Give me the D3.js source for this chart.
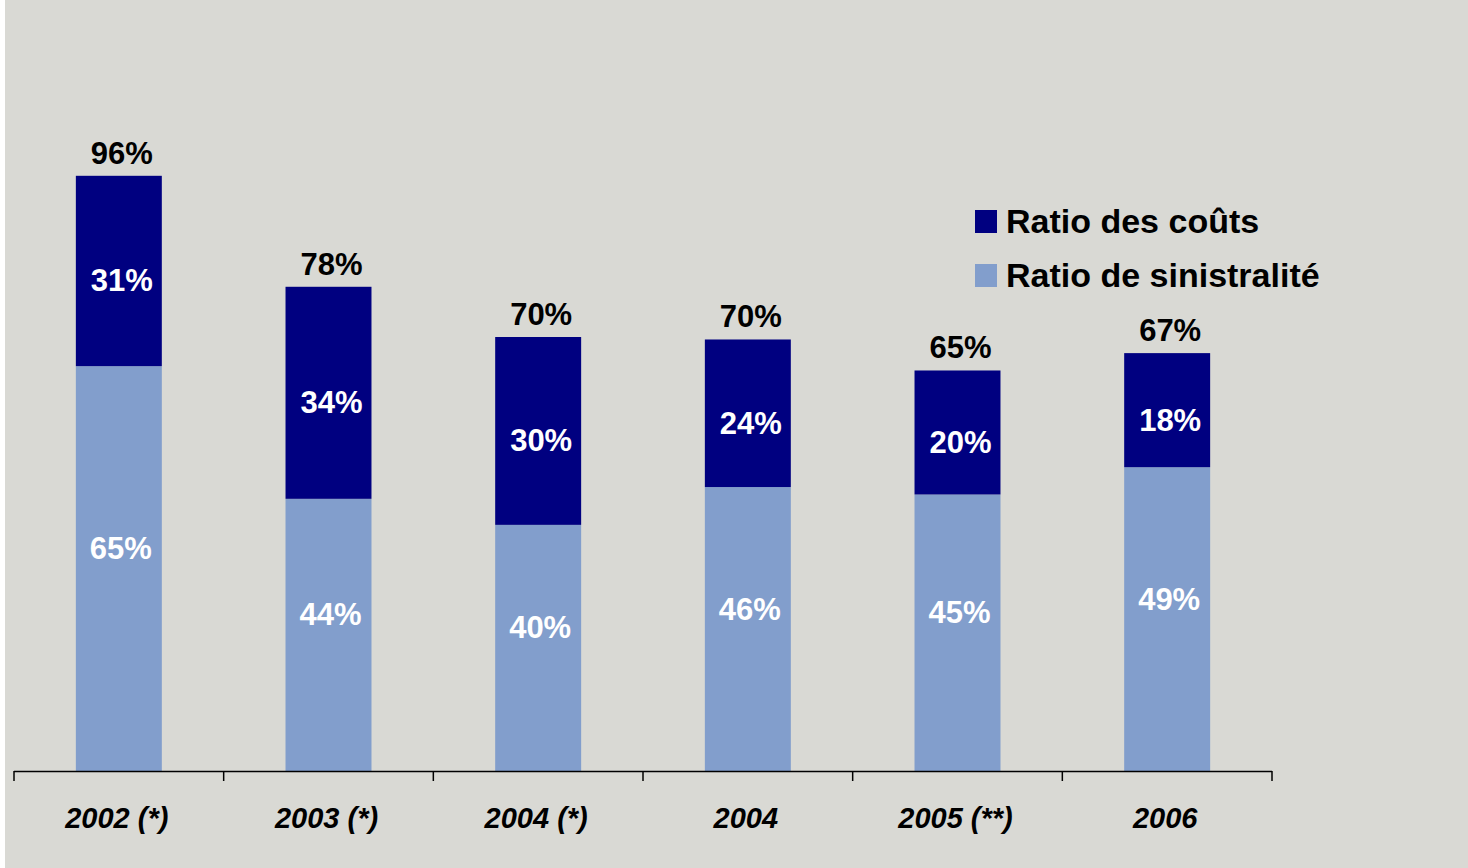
<!DOCTYPE html>
<html><head><meta charset="utf-8">
<script src="https://cdn.jsdelivr.net/npm/d3@7"></script>
<style>
html,body{margin:0;padding:0;background:#fff;}
svg{display:block;font-family:"Liberation Sans",Arial,sans-serif;}
</style></head>
<body>
<svg id="c" width="1468" height="868"></svg>
<script>
const categories = ["2002 (*)", "2003 (*)", "2004 (*)", "2004", "2005 (**)", "2006"];
const sinistralite = [65.3, 43.9, 39.7, 45.8, 44.6, 49.0];
const couts = [30.7, 34.2, 30.3, 23.8, 20.0, 18.4];
const seriesNames = ["Ratio des coûts", "Ratio de sinistralité"];
const colors = {couts: "#000080", sin: "#829ecc"};

const svg = d3.select("#c");
svg.append("rect").attr("x",5).attr("y",0).attr("width",1463).attr("height",868).attr("fill","#d9d9d4");

const x = d3.scaleBand().domain(categories).range([14,1272]).paddingInner(0.59).paddingOuter(0.295);
const y = d3.scaleLinear().domain([0,100]).range([771,151]);

const data = categories.map((c,i)=>({cat:c, s:sinistralite[i], k:couts[i], t:sinistralite[i]+couts[i]}));
const fmt = v => Math.round(v) + "%";

const g = svg.append("g");
g.selectAll(".sin").data(data).join("rect")
  .attr("x", d=>x(d.cat)).attr("width", x.bandwidth())
  .attr("y", d=>y(d.s)).attr("height", d=>y(0)-y(d.s)).attr("fill", colors.sin);
g.selectAll(".cou").data(data).join("rect")
  .attr("x", d=>x(d.cat)).attr("width", x.bandwidth())
  .attr("y", d=>y(d.t)).attr("height", d=>y(d.s)-y(d.t)).attr("fill", colors.couts);

g.selectAll(".ls").data(data).join("text")
  .attr("x", d=>x(d.cat)+x.bandwidth()/2+2).attr("y", d=>(y(0)+y(d.s))/2 - 20)
  .attr("text-anchor","middle").attr("dominant-baseline","central")
  .attr("fill","#fff").attr("font-weight","bold").attr("font-size",31)
  .text(d=>fmt(d.s));
g.selectAll(".lk").data(data).join("text")
  .attr("x", d=>x(d.cat)+x.bandwidth()/2+3).attr("y", d=>(y(d.s)+y(d.t))/2 + 10)
  .attr("text-anchor","middle").attr("dominant-baseline","central")
  .attr("fill","#fff").attr("font-weight","bold").attr("font-size",31)
  .text(d=>fmt(d.k));
g.selectAll(".lt").data(data).join("text")
  .attr("x", d=>x(d.cat)+x.bandwidth()/2+3).attr("y", d=>y(d.t)-12)
  .attr("text-anchor","middle")
  .attr("fill","#000").attr("font-weight","bold").attr("font-size",31)
  .text(d=>fmt(d.t));

const ax = svg.append("g");
const [r0,r1] = x.range();
ax.append("line").attr("x1",r0).attr("x2",r1).attr("y1",771.5).attr("y2",771.5)
  .attr("stroke","#000").attr("stroke-width",1.5);
const bounds = d3.range(categories.length+1).map(i=>r0 + i*x.step());
ax.selectAll(".tk").data(bounds).join("line")
  .attr("x1",d=>d).attr("x2",d=>d).attr("y1",771).attr("y2",781)
  .attr("stroke","#000").attr("stroke-width",1.5);
ax.selectAll(".tl").data(categories).join("text")
  .attr("x", d=>x(d)+x.bandwidth()/2-2).attr("y", 828)
  .attr("text-anchor","middle").attr("font-weight","bold").attr("font-style","italic")
  .attr("font-size",29).attr("fill","#000").text(d=>d);

const leg = svg.append("g");
const legItems = [{n:seriesNames[0], c:colors.couts}, {n:seriesNames[1], c:colors.sin}];
legItems.forEach((it,i)=>{
  leg.append("rect").attr("x",975).attr("y",210+i*54).attr("width",22).attr("height",23).attr("fill",it.c);
  leg.append("text").attr("x",1006).attr("y",233+i*54).attr("font-size",34).attr("font-weight","bold")
    .attr("fill","#000").text(it.n);
});
</script>
</body></html>
